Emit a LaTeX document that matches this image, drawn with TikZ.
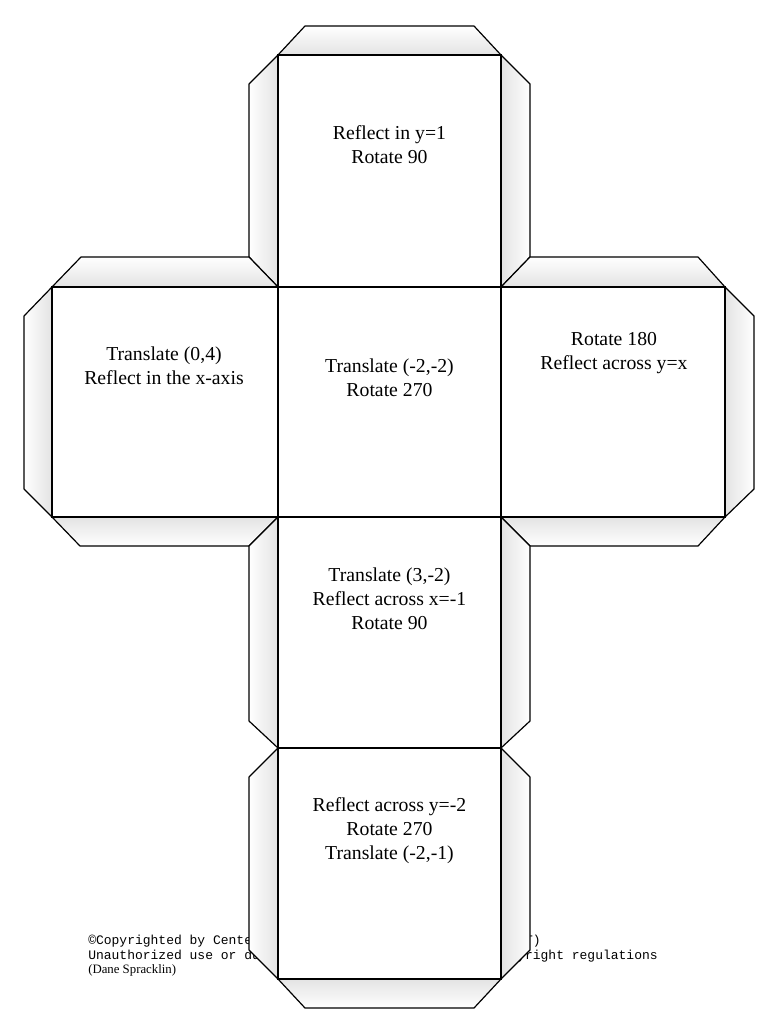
\documentclass[tikz,border=0pt]{standalone}
\usepackage{fontspec}
\setmainfont{Liberation Serif}
\newfontfamily\cmono{Liberation Mono}
\begin{document}
\begin{tikzpicture}[x=0.75pt,y=-0.75pt,
  face/.style={draw=black,line width=0.9pt,fill=white},
  tabline/.style={draw=black,line width=0.9pt,line join=round},
  facetext/.style={align=center,font=\fontsize{14.8}{18}\selectfont,inner sep=0pt},
  copytext/.style={anchor=base west,inner sep=0pt,font=\cmono\fontsize{9.75}{10.5}\selectfont},
  tabL/.style={left color=white,right color=black!11},
  tabR/.style={left color=black!11,right color=white},
  tabT/.style={top color=white,bottom color=black!11},
  tabB/.style={top color=black!11,bottom color=white}]
\useasboundingbox (0,0) rectangle (768,1024);
\fill[white] (0,0) rectangle (768,1024);
% copyright text (partly covered by the net)
\node[copytext] (c1) at (88,944) {©Copyrighted by Center for Innovative Math Teaching (CIMT)};
\node[copytext] (c2) at (88,959) {Unauthorized use or duplication of content violates copyright regulations};
\node[anchor=base west,inner sep=0pt,font=\fontsize{9.6}{10}\selectfont] (c3) at (88,973) {(Dane Spracklin)};
% tabs
\shade[tabT] (278,55)--(305,26)--(474,26)--(501,55)--cycle;
\draw[tabline] (278,55)--(305,26)--(474,26)--(501,55);
\shade[tabL] (278,55)--(249,84)--(249,257)--(278,287)--cycle;
\draw[tabline] (278,55)--(249,84)--(249,257)--(278,287);
\shade[tabR] (501,55)--(530,84)--(530,257)--(501,287)--cycle;
\draw[tabline] (501,55)--(530,84)--(530,257)--(501,287);
\shade[tabT] (52,287)--(81,257)--(249,257)--(278,287)--cycle;
\draw[tabline] (52,287)--(81,257)--(249,257)--(278,287);
\shade[tabL] (52,287)--(24,316)--(24,489)--(52,517)--cycle;
\draw[tabline] (52,287)--(24,316)--(24,489)--(52,517);
\shade[tabB] (52,517)--(80,546)--(249,546)--(278,517)--cycle;
\draw[tabline] (52,517)--(80,546)--(249,546)--(278,517);
\shade[tabT] (501,287)--(530,257)--(698,257)--(725,287)--cycle;
\draw[tabline] (501,287)--(530,257)--(698,257)--(725,287);
\shade[tabR] (725,287)--(754,316)--(754,489)--(725,517)--cycle;
\draw[tabline] (725,287)--(754,316)--(754,489)--(725,517);
\shade[tabB] (501,517)--(530,546)--(698,546)--(725,517)--cycle;
\draw[tabline] (501,517)--(530,546)--(698,546)--(725,517);
\shade[tabL] (278,517)--(249,546)--(249,721)--(278,748)--cycle;
\draw[tabline] (278,517)--(249,546)--(249,721)--(278,748);
\shade[tabR] (501,517)--(530,546)--(530,721)--(501,748)--cycle;
\draw[tabline] (501,517)--(530,546)--(530,721)--(501,748);
\shade[tabL] (278,748)--(249,777)--(249,950)--(278,979)--cycle;
\draw[tabline] (278,748)--(249,777)--(249,950)--(278,979);
\shade[tabR] (501,748)--(530,777)--(530,950)--(501,979)--cycle;
\draw[tabline] (501,748)--(530,777)--(530,950)--(501,979);
\shade[tabB] (278,979)--(305,1008)--(474,1008)--(501,979)--cycle;
\draw[tabline] (278,979)--(305,1008)--(474,1008)--(501,979);
% faces
\draw[face] (278,55) rectangle (501,287);
\draw[face] (52,287) rectangle (278,517);
\draw[face] (278,287) rectangle (501,517);
\draw[face] (501,287) rectangle (725,517);
\draw[face] (278,517) rectangle (501,748);
\draw[face] (278,748) rectangle (501,979);
% texts
\node[facetext] (t1) at (389.5,145) {Reflect in y=1\\Rotate 90};
\node[facetext] (t2) at (164,366) {Translate (0,4)\\Reflect in the x-axis};
\node[facetext] (t3) at (389.5,377.5) {Translate (-2,-2)\\Rotate 270};
\node[facetext] (t4) at (614,353) {Rotate 180\\Reflect across y=x};
\node[facetext] (t5) at (389.5,599) {Translate (3,-2)\\Reflect across x=-1\\Rotate 90};
\node[facetext] (t6) at (389.5,830.5) {Reflect across y=-2\\Rotate 270\\Translate (-2,-1)};
\end{tikzpicture}
\end{document}
